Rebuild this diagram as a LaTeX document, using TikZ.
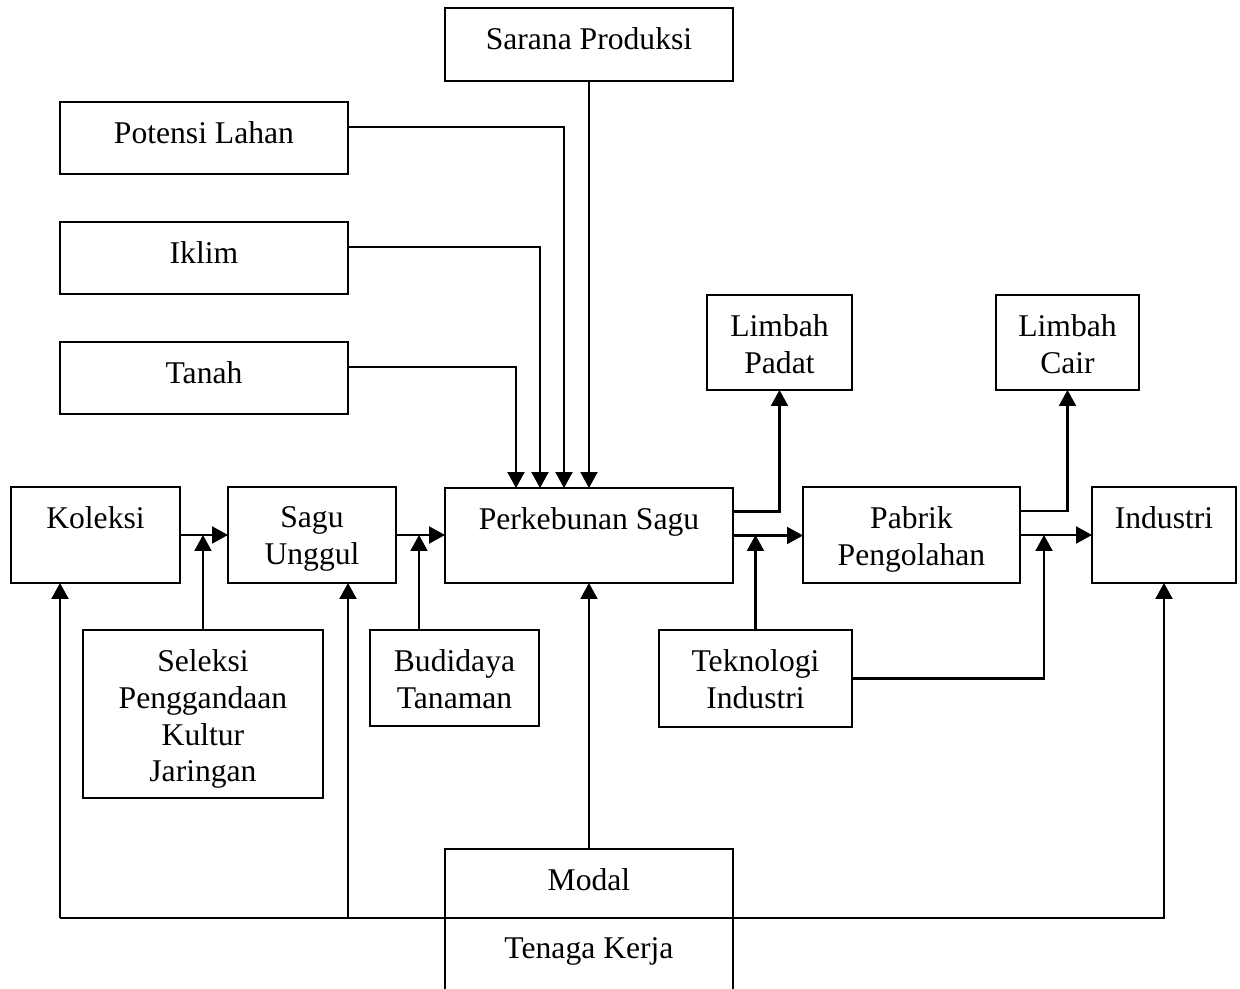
\documentclass[tikz,border=0pt]{standalone}
\usepackage{fontspec}
\setmainfont{Liberation Serif}
\usetikzlibrary{arrows.meta}
\tikzset{box/.style={draw,line width=1.3pt,anchor=north west,inner sep=0pt,outer sep=0pt,label={[box text]north:#1}},
	box text/.style={anchor=north,yshift=-0.38cm,align=center,inner sep=0pt,font=\fontsize{18}{21}\selectfont},
	line/.style={line width=1.2pt},
	arr/.style={line width=1.2pt,-{Triangle[length=0.32cm,width=0.34cm]}},
}

\begin{document}
\begin{tikzpicture}[x=0.02cm,y=-0.02cm]
		\useasboundingbox (0,0) rectangle (1240,989);
		\node[box=Sarana Produksi,minimum width=5.76cm,minimum height=1.46cm] (sp) at (445,8) {};
		\node[box=Potensi Lahan,minimum width=5.76cm,minimum height=1.44cm] (pl) at (60,102) {};
		\node[box=Iklim,minimum width=5.76cm,minimum height=1.44cm] (ik) at (60,222) {};
		\node[box=Tanah,minimum width=5.76cm,minimum height=1.44cm] (tn) at (60,342) {};
		\node[box=Koleksi,minimum width=3.38cm,minimum height=1.92cm] (kol) at (11,487) {};
		\node[box={Sagu\\Unggul},minimum width=3.36cm,minimum height=1.92cm] (sagu) at (228,487) {};
		\node[box=Perkebunan Sagu,minimum width=5.76cm,minimum height=1.9cm] (perk) at (445,488) {};
		\node[box={Pabrik\\Pengolahan},minimum width=4.34cm,minimum height=1.92cm] (pab) at (803,487) {};
		\node[box=Industri,minimum width=2.88cm,minimum height=1.92cm] (ind) at (1092,487) {};
		\node[box={Limbah\\Padat},minimum width=2.9cm,minimum height=1.9cm] (lp) at (707,295) {};
		\node[box={Limbah\\Cair},minimum width=2.86cm,minimum height=1.9cm] (lc) at (996,295) {};
		\node[box={Seleksi\\Penggandaan\\Kultur\\Jaringan},minimum width=4.8cm,minimum height=3.36cm] (sel) at (83,630) {};
		\node[box={Budidaya\\Tanaman},minimum width=3.38cm,minimum height=1.92cm] (bt) at (370,630) {};
		\node[box={Teknologi\\Industri},minimum width=3.86cm,minimum height=1.94cm] (ti) at (659,630) {};
		\node[box=Modal,minimum width=5.76cm,minimum height=1.38cm] (md) at (445,849) {};
		\node[box=Tenaga Kerja,minimum width=5.76cm,minimum height=1.5cm] (tk) at (445,918) {};
		
		\coordinate (j2) at (419,535);
		\coordinate (j4) at (1044,535);
		\coordinate (b1) at (60,918);
		\coordinate (b2) at (348,918);
		
		\draw[arr] (sp.south) -- (perk.north);
		\draw[arr] ([yshift=0.22cm]pl.east) -| ([xshift=-0.5cm]perk.north);
		\draw[arr] ([yshift=0.22cm]ik.east) -| ([xshift=-0.98cm]perk.north);
		\draw[arr] ([yshift=0.22cm]tn.east) -| ([xshift=-1.46cm]perk.north);
		
		\draw[arr] (kol.east) -- (sagu.west);
		\draw[arr] (sagu.east) -- (sagu.east -| perk.west);
		\draw[arr] (perk.east) -- (perk.east -| pab.west);
		\draw[arr] (pab.east) -- (pab.east -| ind.west);
		\draw[arr] ([yshift=0.48cm]perk.east) -| (lp.south);
		\draw[arr] ([yshift=0.48cm]pab.east) -| (lc.south);
		
		\draw[arr] (sel.north) -- (sel.north |- kol.east);
		\draw[arr] (bt.north -| j2) -- (j2);
		\draw[arr] (ti.north) -- (ti.north |- pab.west);
		\draw[arr] (ti.east) -| (j4);
		
		\draw[arr] (md.north) -- (perk.south);
		\draw[line] (tk.north west) -- (b1);
		\draw[arr] (b1) -- (b1 |- kol.south);
		\draw[arr] (b2) -- (b2 |- sagu.south);
		\draw[arr] (tk.north east) -| (ind.south);
	\end{tikzpicture}
\end{document}
